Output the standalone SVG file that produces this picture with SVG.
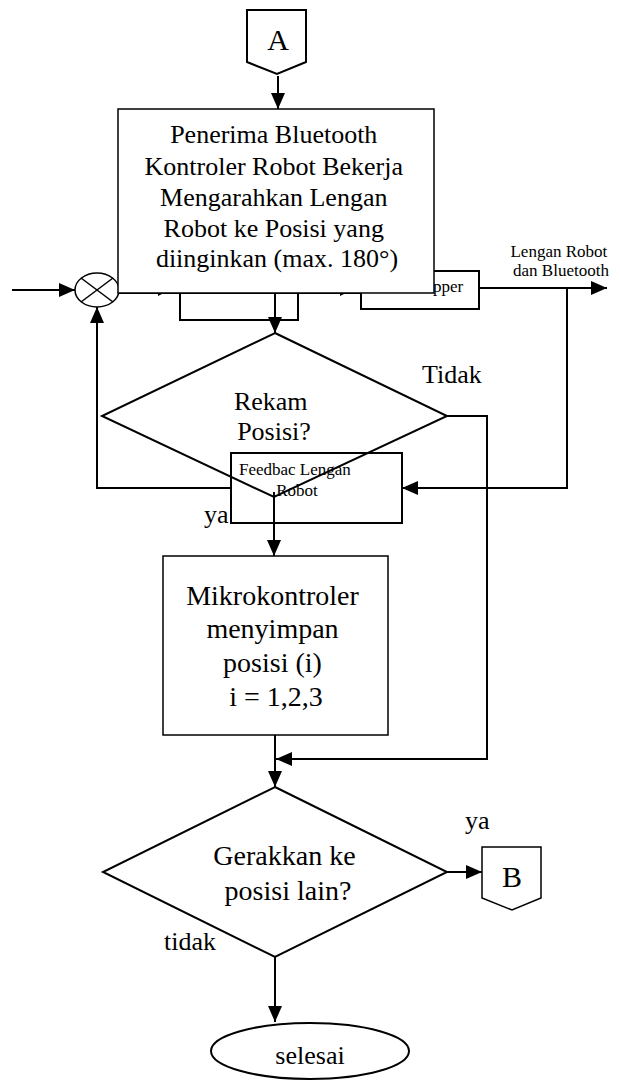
<svg xmlns="http://www.w3.org/2000/svg" width="620" height="1080" viewBox="0 0 620 1080">
<style>
.ln{fill:none;stroke:#000;stroke-width:2}
.bx{fill:none;stroke:#000;stroke-width:2}
.t{font-family:"Liberation Serif","Times New Roman",serif;fill:#000}
.big{font-size:26px}
.xl{font-size:28px}
.sm{font-size:17px}
</style>
<defs>
<marker id="ah" markerUnits="userSpaceOnUse" markerWidth="16" markerHeight="14" refX="16" refY="7" orient="auto">
<path d="M0,0 L16,7 L0,14 z" fill="#000"/>
</marker>
</defs>
<rect width="620" height="1080" fill="#fff"/>

<g id="hidden-parts">
<rect x="180" y="270" width="118" height="50" class="bx"/>
<rect x="361" y="271" width="118" height="38" class="bx"/>
<text x="433" y="292" class="t sm">pper</text>
<path d="M158,284 L170,290 L158,296 z" fill="#000"/>
<path d="M340,284 L352,290 L340,296 z" fill="#000"/>
</g>

<g id="connectors">
<line x1="118" y1="293" x2="361" y2="293" class="ln"/>
<line x1="12" y1="290" x2="75" y2="290" class="ln" marker-end="url(#ah)"/>
<line x1="278" y1="76" x2="278" y2="109" class="ln" marker-end="url(#ah)"/>
<line x1="275" y1="293" x2="275" y2="333" class="ln" marker-end="url(#ah)"/>
<line x1="479" y1="288" x2="607" y2="288" class="ln" marker-end="url(#ah)"/>
<polyline points="567,288 567,488 402,488" class="ln" marker-end="url(#ah)"/>
<polyline points="231,488 97,488 97,307" class="ln" marker-end="url(#ah)"/>
<polyline points="447,416 487,416 487,759 276,759" class="ln" marker-end="url(#ah)"/>
<line x1="274" y1="492" x2="274" y2="556" class="ln" marker-end="url(#ah)"/>
<line x1="275" y1="735" x2="275" y2="787" class="ln" marker-end="url(#ah)"/>
<line x1="447" y1="872" x2="482" y2="872" class="ln" marker-end="url(#ah)"/>
<line x1="275" y1="957" x2="275" y2="1022" class="ln" marker-end="url(#ah)"/>
</g>

<g id="sum">
<ellipse cx="97" cy="290" rx="22" ry="17" fill="#fff" stroke="#000" stroke-width="1.5"/>
<line x1="81" y1="278" x2="113" y2="302" stroke="#000" stroke-width="1.5"/>
<line x1="113" y1="278" x2="81" y2="302" stroke="#000" stroke-width="1.5"/>
</g>

<g id="conn-a">
<polygon points="247,10 306,10 306,62 277,74 247,62" fill="#fff" stroke="#000" stroke-width="2"/>
<text x="278" y="50" text-anchor="middle" class="t" font-size="30">A</text>
</g>

<g id="main">
<rect x="118" y="109" width="316" height="184" fill="#fff" stroke="#000" stroke-width="1.5"/>
<text text-anchor="middle" class="t big">
<tspan x="277" y="143">Penerima Bluetooth</tspan>
<tspan x="277" y="175">Kontroler Robot Bekerja</tspan>
<tspan x="277" y="206">Mengarahkan Lengan</tspan>
<tspan x="277" y="237">Robot ke Posisi yang</tspan>
<tspan x="277" y="267">diinginkan (max. 180°)</tspan>
</text>
</g>

<g id="output-label">
<text text-anchor="middle" class="t sm">
<tspan x="561" y="257">Lengan Robot</tspan>
<tspan x="561" y="276">dan Bluetooth</tspan>
</text>
</g>

<g id="rekam">
<polygon points="275,333 447,416 274,497 102,416" fill="none" stroke="#000" stroke-width="2"/>
<text text-anchor="middle" class="t big">
<tspan x="274" y="410">Rekam</tspan>
<tspan x="274" y="440">Posisi?</tspan>
</text>
<text x="422" y="383" class="t big">Tidak</text>
<text x="204" y="523" class="t big">ya</text>
</g>

<g id="feedback">
<rect x="231" y="453" width="171" height="70" class="bx"/>
<text text-anchor="middle" class="t sm" fill="#222">
<tspan x="297" y="475">Feedbac Lengan</tspan>
<tspan x="297" y="496">Robot</tspan>
</text>
</g>

<g id="mikro">
<rect x="163" y="556" width="225" height="179" fill="#fff" stroke="#000" stroke-width="1.5"/>
<text text-anchor="middle" class="t xl">
<tspan x="276" y="605">Mikrokontroler</tspan>
<tspan x="276" y="638">menyimpan</tspan>
<tspan x="276" y="672">posisi (i)</tspan>
<tspan x="276" y="706">i = 1,2,3</tspan>
</text>
</g>

<g id="gerakkan">
<polygon points="275,787 447,872 275,957 103,872" fill="#fff" stroke="#000" stroke-width="2"/>
<text text-anchor="middle" class="t xl">
<tspan x="288" y="865">Gerakkan ke</tspan>
<tspan x="288" y="900">posisi lain?</tspan>
</text>
<text x="465" y="829" class="t big">ya</text>
<text x="164" y="950" class="t big">tidak</text>
</g>

<g id="conn-b">
<polygon points="482,847 541,847 541,898 512,910 482,898" fill="#fff" stroke="#000" stroke-width="1.5"/>
<text x="512" y="887" text-anchor="middle" class="t" font-size="30">B</text>
</g>

<g id="selesai">
<ellipse cx="310" cy="1051" rx="99" ry="28" fill="#fff" stroke="#000" stroke-width="2"/>
<text x="310" y="1064" text-anchor="middle" class="t big">selesai</text>
</g>
</svg>
